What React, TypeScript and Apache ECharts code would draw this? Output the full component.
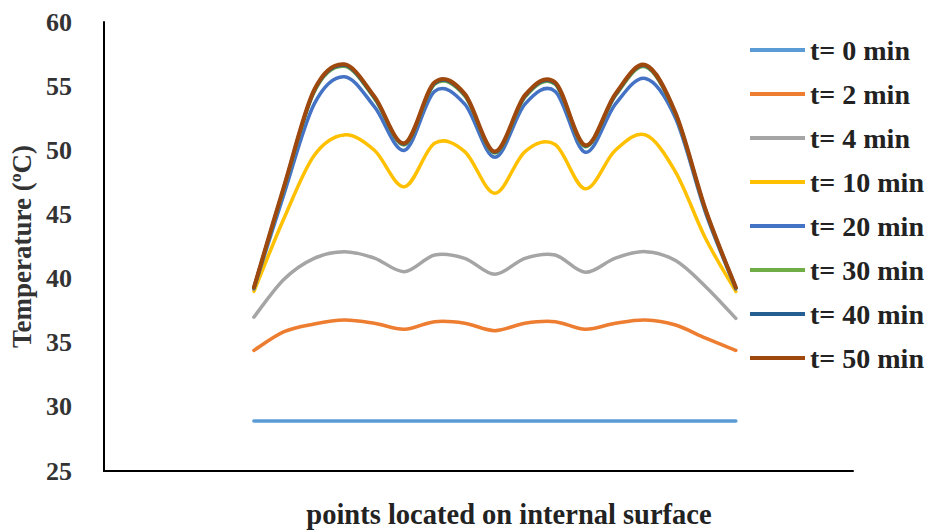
import React, { useEffect, useRef } from "react";
import * as echarts from "echarts";

const pointIdx = [1, 2, 3, 4, 5, 6, 7, 8, 9, 10, 11, 12, 13, 14, 15, 16, 17];
const seriesNames = ["t= 0 min", "t= 2 min", "t= 4 min", "t= 10 min", "t= 20 min", "t= 30 min", "t= 40 min", "t= 50 min"];
const colors = ["#5B9BD5", "#ED7D31", "#A5A5A5", "#FFC000", "#4472C4", "#70AD47", "#255E91", "#9E480E"];

const t0 = [28.9, 28.9, 28.9, 28.9, 28.9, 28.9, 28.9, 28.9, 28.9, 28.9, 28.9, 28.9, 28.9, 28.9, 28.9, 28.9, 28.9];
const t2 = [34.4, 35.86, 36.46, 36.77, 36.52, 36.05, 36.64, 36.52, 35.94, 36.52, 36.64, 36.05, 36.52, 36.77, 36.38, 35.35, 34.4];
const t4 = [37.0, 39.95, 41.58, 42.1, 41.6, 40.54, 41.84, 41.58, 40.33, 41.58, 41.84, 40.49, 41.6, 42.1, 41.4, 39.37, 36.9];
const t10 = [39.0, 44.7, 49.6, 51.2, 50.0, 47.16, 50.55, 49.9, 46.65, 49.9, 50.45, 47.0, 50.0, 51.2, 48.3, 43.1, 39.0];
const t20 = [39.2, 46.6, 53.6, 55.74, 53.4, 50.0, 54.6, 53.6, 49.45, 53.6, 54.6, 49.85, 53.6, 55.6, 52.5, 45.1, 39.2];
const t30 = [39.25, 47.05, 54.55, 56.55, 54.05, 50.43, 55.15, 54.25, 49.78, 54.15, 55.15, 50.28, 54.25, 56.5, 52.78, 45.25, 39.25];
const t40 = [39.28, 47.14, 54.62, 56.62, 54.12, 50.49, 55.22, 54.32, 49.84, 54.22, 55.22, 50.34, 54.32, 56.58, 52.84, 45.3, 39.28];
const t50 = [39.3, 47.2, 54.7, 56.7, 54.2, 50.55, 55.3, 54.4, 49.9, 54.3, 55.3, 50.4, 54.4, 56.65, 52.9, 45.35, 39.3];
const allValues = [t0, t2, t4, t10, t20, t30, t40, t50];

const yMin = 25;
const yMax = 60;
const yStep = 5;
const xAxisTitle = "points located on internal surface";
const yAxisTitle = "Temperature (ºC)";

const FONT = '"Liberation Serif", "Times New Roman", serif';

// Smooth curve through points (Catmull-Rom as cubic Bezier), like a spreadsheet's smoothed line
function smoothPath(pts: number[][]): string {
  const n = pts.length;
  if (n === 0) return "";
  let d = `M${pts[0][0]},${pts[0][1]}`;
  for (let i = 0; i < n - 1; i++) {
    const p0 = pts[Math.max(0, i - 1)];
    const p1 = pts[i];
    const p2 = pts[i + 1];
    const p3 = pts[Math.min(n - 1, i + 2)];
    const c1x = p1[0] + (p2[0] - p0[0]) / 6;
    const c1y = p1[1] + (p2[1] - p0[1]) / 6;
    const c2x = p2[0] - (p3[0] - p1[0]) / 6;
    const c2y = p2[1] - (p3[1] - p1[1]) / 6;
    d += ` C${c1x},${c1y} ${c2x},${c2y} ${p2[0]},${p2[1]}`;
  }
  return d;
}

export default function App() {
  const ref = useRef<HTMLDivElement>(null);
  useEffect(() => {
    if (!ref.current) return;
    const chart = echarts.init(ref.current, undefined, { renderer: "svg" });
    const series = seriesNames.map((name, si) => {
      const data = pointIdx.map((p, i) => [p, allValues[si][i]]);
      return {
        name,
        type: "custom",
        coordinateSystem: "cartesian2d",
        encode: { x: 0, y: 1 },
        data,
        itemStyle: { color: colors[si] },
        z: 2 + si,
        renderItem: (params: any, api: any) => {
          if (params.dataIndex !== 0) return null;
          const pts = data.map((dp) => api.coord(dp));
          return {
            type: "path",
            shape: { pathData: smoothPath(pts) },
            style: {
              stroke: colors[si],
              lineWidth: si === 7 ? 4 : 3.5,
              fill: "none",
              lineCap: "round",
              lineJoin: "round",
            },
          };
        },
      };
    });
    chart.setOption({
      animation: false,
      backgroundColor: "#ffffff",
      grid: { left: 99, right: 77, top: 22, bottom: 61, containLabel: false },
      xAxis: {
        type: "value",
        min: -3.98,
        max: 20.89,
        axisLine: { show: true, onZero: false, lineStyle: { color: "#000", width: 2 } },
        axisTick: { show: false },
        axisLabel: { show: false },
        splitLine: { show: false },
      },
      yAxis: {
        type: "value",
        min: yMin,
        max: yMax,
        interval: yStep,
        axisLine: { show: true, onZero: false, lineStyle: { color: "#000", width: 2 } },
        axisTick: { show: false },
        splitLine: { show: false },
        axisLabel: { fontFamily: FONT, fontWeight: "bold", fontSize: 26, color: "#333", margin: 32 },
        name: yAxisTitle,
        nameLocation: "middle",
        nameGap: 66,
        nameTextStyle: { fontFamily: FONT, fontWeight: "bold", fontSize: 27, color: "#333" },
      },
      legend: {
        orient: "vertical",
        left: 745,
        top: 31,
        itemWidth: 55,
        itemHeight: 4,
        itemGap: 16,
        icon: "rect",
        data: seriesNames,
        textStyle: { fontFamily: FONT, fontWeight: "bold", fontSize: 28, lineHeight: 28, color: "#222" },
      },
      graphic: [
        {
          type: "text",
          x: 509,
          y: 514,
          style: {
            text: xAxisTitle,
            align: "center",
            verticalAlign: "middle",
            font: `bold 28.5px ${FONT}`,
            fill: "#222",
          },
        },
      ],
      series,
    });
    return () => chart.dispose();
  }, []);
  return <div ref={ref} style={{ position: "fixed", left: 0, top: 0, width: 930, height: 532, background: "#fff" }} />;
}
